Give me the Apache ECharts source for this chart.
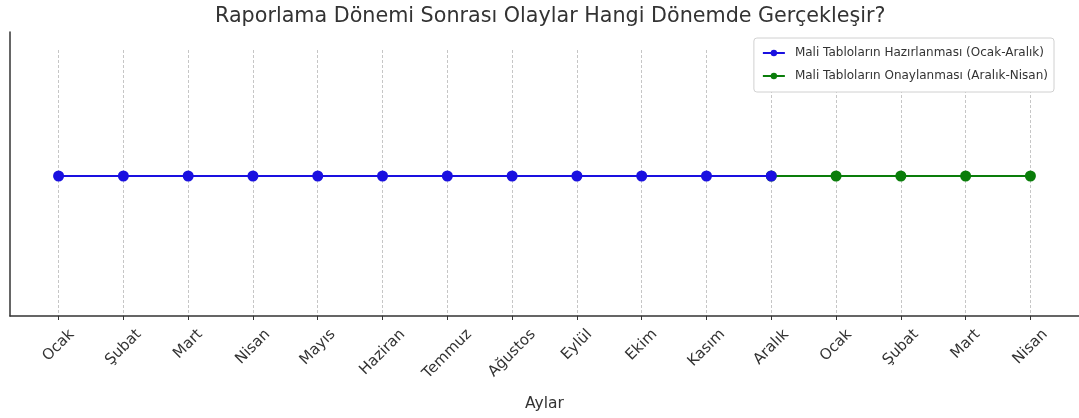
<!DOCTYPE html>
<html>
<head>
<meta charset="utf-8">
<script src="https://cdn.jsdelivr.net/npm/echarts@6/dist/echarts.min.js"></script>
<style>html,body{margin:0;padding:0;background:#fff}#c{width:1079px;height:418px}</style>
</head>
<body>
<div id="c"></div>
<script>
const months = ['Ocak','Şubat','Mart','Nisan','Mayıs','Haziran','Temmuz','Ağustos','Eylül','Ekim','Kasım','Aralık','Ocak','Şubat','Mart','Nisan'];
const prepStart = 0;
const prepValues = [1,1,1,1,1,1,1,1,1,1,1,1];
const approvalStart = 11;
const approvalValues = [1,1,1,1,1];
const prepName = 'Mali Tabloların Hazırlanması (Ocak-Aralık)';
const approvalName = 'Mali Tabloların Onaylanması (Aralık-Nisan)';

const ticks = months.map((m, i) => i);
const prepData = prepValues.map((v, i) => [prepStart + i, v]);
const approvalData = approvalValues.map((v, i) => [approvalStart + i, v]);

const FONT = 'DejaVu Sans';
const LABEL_SIZE = 15;

// Per-label rich styles so each rotated label is centred under its tick (matplotlib-style)
const ctx = document.createElement('canvas').getContext('2d');
ctx.font = LABEL_SIZE + 'px "' + FONT + '"';
const rich = {};
months.forEach((m, i) => {
  const L = ctx.measureText(m).width;
  rich['p' + i] = {
    fontFamily: FONT, fontSize: LABEL_SIZE, color: '#333',
    padding: [L / 2, L / 2, 0, 0]
  };
});

const chart = echarts.init(document.getElementById('c'), null, {renderer: 'canvas'});
chart.setOption({
  animation: false,
  title: {
    text: 'Raporlama Dönemi Sonrası Olaylar Hangi Dönemde Gerçekleşir?',
    left: 210, top: 1,
    textStyle: {fontFamily: FONT, fontSize: 20.7, fontWeight: 'normal', color: '#333'}
  },
  legend: {
    orient: 'vertical', right: 25, top: 38,
    itemWidth: 22, itemHeight: 8, itemGap: 11,
    padding: [9, 6, 10, 8],
    borderColor: '#d0d0d0', borderWidth: 1, borderRadius: 3,
    backgroundColor: '#fff',
    textStyle: {fontFamily: FONT, fontSize: 12, color: '#333', padding: [0, 0, 0, 5]},
    data: [prepName, approvalName]
  },
  grid: [
    {left: 10, right: -2, top: 50, bottom: 102},
    {left: 10, right: -2, top: 32, bottom: 102}
  ],
  xAxis: [
    {
      type: 'value', gridIndex: 0, min: -0.75, max: 15.75,
      name: 'Aylar', nameLocation: 'middle', nameGap: 80,
      nameTextStyle: {fontFamily: FONT, fontSize: 15.5, color: '#333'},
      axisLine: {show: true, lineStyle: {color: '#333', width: 1.5}},
      axisTick: {show: true, length: 4, customValues: ticks, lineStyle: {color: '#333'}},
      axisLabel: {
        customValues: ticks, rotate: 45, margin: 16,
        align: 'center', verticalAlign: 'middle',
        fontFamily: FONT, fontSize: LABEL_SIZE, color: '#333',
        formatter: v => { const i = Math.round(v); return '{p' + i + '|' + months[i] + '}'; },
        rich: rich
      },
      splitLine: {show: true, lineStyle: {color: '#b8b8b8', type: [3, 2], width: 0.8}}
    },
    {type: 'value', gridIndex: 1, show: false, min: 0, max: 1}
  ],
  yAxis: [
    {type: 'value', gridIndex: 0, min: 0, max: 1.9, show: false},
    {
      type: 'value', gridIndex: 1, min: 0, max: 1,
      axisLine: {show: true, lineStyle: {color: '#333', width: 1.5}},
      axisTick: {show: false}, axisLabel: {show: false}, splitLine: {show: false}
    }
  ],
  series: [
    {
      name: approvalName, type: 'line', data: approvalData, z: 2,
      xAxisIndex: 0, yAxisIndex: 0,
      symbol: 'circle', symbolSize: 11,
      lineStyle: {color: '#0a7d0a', width: 2},
      itemStyle: {color: '#0a7d0a'}
    },
    {
      name: prepName, type: 'line', data: prepData, z: 3,
      xAxisIndex: 0, yAxisIndex: 0,
      symbol: 'circle', symbolSize: 11,
      lineStyle: {color: '#1a10e0', width: 2},
      itemStyle: {color: '#1a10e0'}
    }
  ]
});
</script>
</body>
</html>
